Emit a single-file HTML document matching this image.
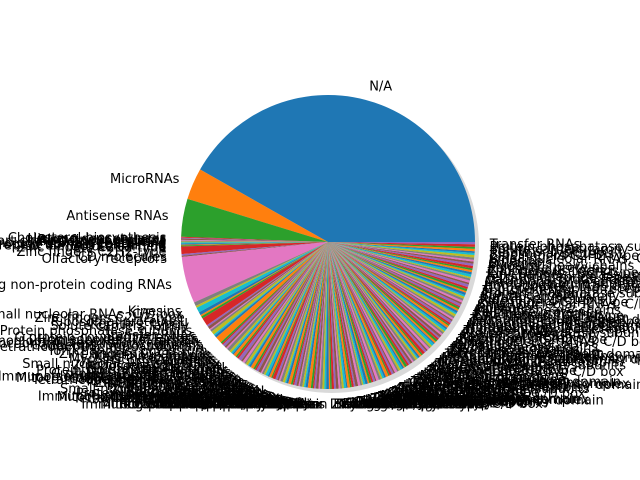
<!DOCTYPE html>
<html><head><meta charset="utf-8">
<style>
html,body{margin:0;padding:0;background:#fff;}
svg{display:block;}
text{font-family:"DejaVu Sans","Liberation Sans",sans-serif;font-size:13px;fill:#000;}
</style></head>
<body>
<svg id="chart" width="640" height="480"></svg>
<script>
const headCategories = ["N/A","MicroRNAs","Antisense RNAs","Cholesterol biosynthesis","Histone deacetylases","Ring finger proteins","Short chain dehydrogenases","PHD finger proteins","Pleckstrin homology domain containing","WD repeat domain containing","Ankyrin repeat domain containing","Solute carriers","Zinc fingers C2H2-type","Zinc fingers C2H2-type","CD molecules","Olfactory receptors","Long non-protein coding RNAs"];
const headValues = [150.6,12.5,15.0,0.4,0.3,0.5,0.3,0.4,0.3,0.5,0.4,0.3,0.4,3.0,0.6,0.5,18.5];
const tailValues = [1.5,0.8,2.0,1.2,0.6,0.9,3.2,0.7,1.1,0.5,0.8,1.4,0.6,0.9,2.6,0.7,0.5,1.0,0.8,0.6,
1.2,0.9,0.7,0.5,1.1,0.6,0.8,1.3,0.7,0.9,0.6,1.0,0.5,0.8,1.2,0.7,0.6,0.9,1.1,0.5,
0.8,0.7,1.0,0.6,0.9,0.5,1.2,0.8,0.7,0.6,1.0,0.9,0.5,0.8,1.1,0.7,0.6,0.9,0.8,0.5,
1.0,0.7,0.6,0.9,1.2,0.8,0.5,0.7,1.0,0.6,0.9,0.8,0.7,1.1,0.5,0.6,0.9,0.8,1.0,0.7,
0.6,0.8,0.9,0.5,1.0,0.7,0.8,0.6,1.1,0.9,0.7,0.5,0.8,1.0,0.6,0.9,0.7,0.8,0.5,1.0,
0.9,0.6,0.8,0.7,1.1,0.5,0.9,0.8,0.6,1.0,0.7,0.8,0.9,0.6,0.5,1.0,0.8,0.7,0.9,0.6,
1.0,0.8,0.5,0.7,0.9,0.6,1.1,0.8,0.7,0.9,0.6,0.8,1.0,0.5,0.7,0.9,0.8,0.6,1.0,0.7,
0.8,0.6,0.9,0.7,1.0,0.5,0.8,0.9,0.6,0.7,0.8,1.0,0.6,0.9,0.7,0.8,0.5,0.9,0.7,0.8,
0.9,0.8,0.7,1.0,0.6,0.9,0.8,1.1,0.7,0.9,0.8,0.6,1.0,0.9,0.8,0.7,1.0,0.9,0.8,0.7,
0.9,1.0,0.8,0.7,0.9,0.8,1.0,0.9];
const tailNamePool = ["Kinesins","Small nucleolar RNAs, C/D box","Zinc fingers C2H2-type","Ribosomal proteins L","Keratins, type I","Solute carriers family","Protein phosphatase subunits","Transfer RNAs","G protein-coupled receptors","Homeoboxes, TALE class","Immunoglobulin superfamily domain","Mitochondrial respiratory complex","Cadherins, protocadherins","Tetratricopeptide repeat domain","Ion channels, potassium","Zinc fingers CCCH-type","Endogenous ligands","Kelch-like proteins","Myosins, heavy chains","Collagens"];
const colors = ["#1f77b4","#ff7f0e","#2ca02c","#d62728","#9467bd","#8c564b","#e377c2","#7f7f7f","#bcbd22","#17becf"];

const svg = document.getElementById('chart');
const NS = "http://www.w3.org/2000/svg";
const cx = 328, cy = 242, r = 147;
const values = headValues.concat(tailValues);
const labels = headCategories.concat(tailValues.map((v,i)=>tailNamePool[i % tailNamePool.length]));
const total = values.reduce((a,b)=>a+b,0);

const shadow = document.createElementNS(NS,'circle');
shadow.setAttribute('cx', cx+4); shadow.setAttribute('cy', cy+4); shadow.setAttribute('r', r);
shadow.setAttribute('fill', '#d9d9d9');


svg.appendChild(shadow);

function pt(a, rad){ return [cx + rad*Math.cos(a), cy - rad*Math.sin(a)]; }
let acc = 0;
const labelGroup = document.createElementNS(NS,'g');
values.forEach((v,i)=>{
  const a0 = acc/total*2*Math.PI; acc += v;
  const a1 = acc/total*2*Math.PI;
  const p0 = pt(a0,r), p1 = pt(a1,r);
  const large = (a1-a0) > Math.PI ? 1 : 0;
  const path = document.createElementNS(NS,'path');
  path.setAttribute('d', `M${cx},${cy} L${p0[0]},${p0[1]} A${r},${r} 0 ${large} 0 ${p1[0]},${p1[1]} Z`);
  path.setAttribute('fill', colors[i % colors.length]);
  
  
  svg.appendChild(path);
  const am = (a0+a1)/2;
  const lp = pt(am, r*1.1);
  const t = document.createElementNS(NS,'text');
  t.setAttribute('x', lp[0]); t.setAttribute('y', lp[1] + 5);
  t.setAttribute('text-anchor', Math.cos(am) >= 0 ? 'start' : 'end');
  t.textContent = labels[i];
  
  
  labelGroup.appendChild(t);
});
svg.appendChild(labelGroup);
</script>
</body></html>
